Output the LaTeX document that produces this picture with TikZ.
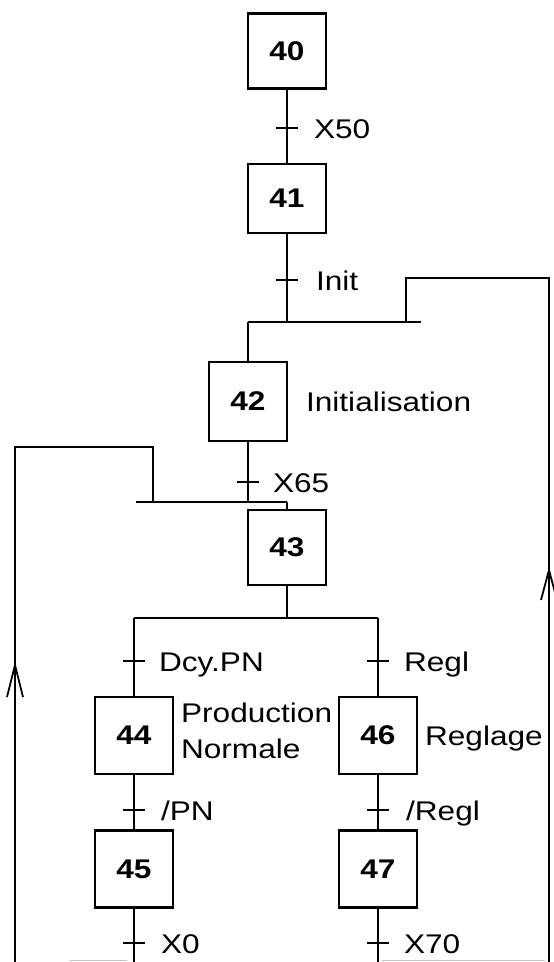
\documentclass[tikz,border=0pt]{standalone}
\usepackage{fontspec}
\setmainfont{Liberation Sans}[FakeStretch=1.17]
\begin{document}
\begin{tikzpicture}[x=1pt,y=-1pt,line width=2.2pt,
  stepbox/.style={draw,line width=2.6pt,minimum width=78pt,minimum height=75pt,inner sep=0pt,font=\fontsize{27}{32}\selectfont\bfseries},
  lbl/.style={anchor=base west,inner sep=0pt,font=\fontsize{27}{36}\selectfont},
  tickline/.style={line width=1.8pt},
  faint/.style={gray!45,line width=1pt}]
\useasboundingbox (0,0) rectangle (554,962);
% steps
\node[stepbox] (s40) at (287,51) {40};
\node[stepbox,minimum height=69pt] (s41) at (287,198.5) {41};
\node[stepbox,minimum height=79pt] (s42) at (248,401.5) {42};
\node[stepbox] (s43) at (287,547.5) {43};
\node[stepbox,minimum height=77pt] (s44) at (134,735.5) {44};
\node[stepbox,minimum height=77pt] (s45) at (134,869) {45};
\node[stepbox,minimum height=77pt] (s46) at (378,735.5) {46};
\node[stepbox,minimum height=77pt] (s47) at (378,869) {47};
% labels
\node[lbl] (l50) at (313,138) {X50};
\node[lbl] (linit) at (315,290) {Init};
\node[lbl] (l42) at (305,411) {Initialisation};
\node[lbl] (l65) at (272,492) {X65};
\node[lbl] (ldcy) at (158,671) {Dcy.PN};
\node[lbl] (lregl) at (403,671) {Regl};
\node[lbl,align=left] (l44) at (180,758) {Production\\Normale};
\node[lbl] (l46) at (424,745) {Reglage};
\node[lbl] (lpn) at (160,820) {/PN};
\node[lbl] (lnregl) at (405,820) {/Regl};
\node[lbl] (lx0) at (160,953) {X0};
\node[lbl] (lx70) at (403,953) {X70};
% coordinates
\coordinate (j1) at (287,322);
\coordinate (j1L) at (248,322);
\coordinate (j1R) at (421,322);
\coordinate (r1a) at (406,322);
\coordinate (r1b) at (549,278);
\coordinate (r1c) at (549,962);
\coordinate (j2) at (248,502);
\coordinate (j2L) at (136,502);
\coordinate (j2R) at (287,502);
\coordinate (r2a) at (153,502);
\coordinate (r2b) at (15,447);
\coordinate (r2c) at (15,962);
\coordinate (d1) at (287,618);
\coordinate (dL) at (134,618);
\coordinate (dR) at (378,618);
\coordinate (b45) at (134,962);
\coordinate (b47) at (378,962);
% ticks
\coordinate (k50) at (287,128);
\coordinate (kinit) at (287,280);
\coordinate (k65) at (248,482);
\coordinate (kdcy) at (134,661);
\coordinate (kregl) at (378,661);
\coordinate (kpn) at (134,810);
\coordinate (knregl) at (378,810);
\coordinate (kx0) at (134,943);
\coordinate (kx70) at (378,943);
\foreach \k in {k50,kinit,k65,kdcy,kregl,kpn,knregl,kx0,kx70}
  \draw[tickline] (\k) ++(-11,0) -- ++(22,0);
% connectors
\draw (s40) -- (s41);
\draw (s41) -- (j1);
\draw (j1L) -- (j1R);
\draw (j1L) -- (s42);
\draw (r1a) |- (r1b) -- (r1c);
\draw (s42) -- (j2);
\draw (j2L) -- (j2R);
\draw (j2R) -- (s43);
\draw (r2a) |- (r2b) -- (r2c);
\draw (s43) -- (d1);
\draw (dL) -- (dR);
\draw (dL) -- (s44);
\draw (dR) -- (s46);
\draw (s44) -- (s45);
\draw (s46) -- (s47);
\draw (s45) -- (b45);
\draw (s47) -- (b47);
% arrowheads on return lines
\draw[line width=1.8pt] (7,697) -- (15,665) -- (23,697);
\draw[line width=1.8pt] (541,600) -- (549,570) -- (557,600);
% faint lines at the cut bottom edge
\draw[faint] (70,960.5) -- (127,960.5);
\draw[faint] (382,960.5) -- (545,960.5);
\end{tikzpicture}
\end{document}
